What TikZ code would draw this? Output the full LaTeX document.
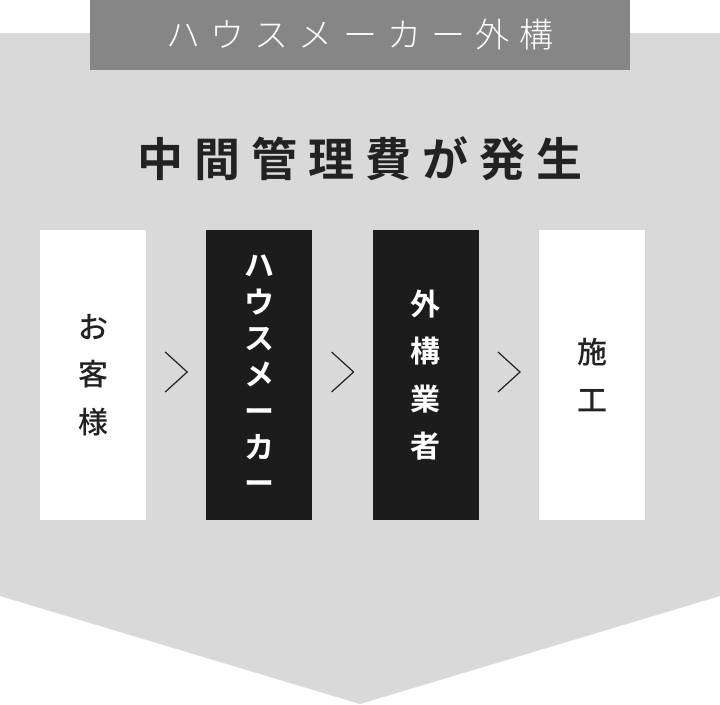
\documentclass[tikz,border=0pt]{standalone}
\usepackage{fontspec}
\setmainfont{Noto Sans CJK JP}
\newfontfamily\jpbold{Noto Sans CJK JP Bold}
\newfontfamily\jpmedium{Noto Sans CJK JP Medium}
\newfontfamily\jplight{Noto Sans CJK JP Light}
\usetikzlibrary{positioning}
\definecolor{bandgray}{HTML}{D9D9D9}
\definecolor{headgray}{HTML}{868686}
\definecolor{stepblack}{HTML}{1C1C1C}
\definecolor{inkdark}{HTML}{222222}

\begin{document}
\begin{tikzpicture}[x=1pt, y=-1pt,
	stage/.style = { minimum width=106pt, minimum height=290pt, inner sep=0pt, align=center },
	light/.style = { stage, fill=white, text=inkdark, font=\jpmedium\fontsize{30}{47.5}\selectfont },
	dark/.style = { stage, fill=stepblack, text=white, font=\jpbold\fontsize{30}{47.5}\selectfont },
	chev/.style = { draw=inkdark, line width=1.2pt }]

  \useasboundingbox (0,0) rectangle (720,704);
  \fill[bandgray] (0,33) -- (720,33) -- (720,596) -- (360,704) -- (0,596) -- cycle;
  \draw (360,35) node[fill=headgray, minimum width=540pt, minimum height=70pt, text=white,
    font=\jplight\fontsize{34}{34}\selectfont\addfontfeatures{LetterSpace=30}] (head) {ハウスメーカー外構};
  \draw (360,159) node[text=inkdark,
    font=\jpbold\fontsize{46}{46}\selectfont\addfontfeatures{LetterSpace=24}] (title) {中間管理費が発生};

  \node[light] (kyaku) at (93,375) {お\\客\\様};
  \node[dark, right=60pt of kyaku, font=\jpbold\fontsize{30}{36.3}\selectfont] (maker) {ハ\\ウ\\ス\\メ\\ー\\カ\\ー};
  \node[dark, right=60pt of maker] (gaiko) {外\\構\\業\\者};
  \node[light, right=60pt of gaiko] (seko) {施\\工};

  \draw[chev] ([xshift=19pt,yshift=23pt]kyaku.east) -- ++(22pt,-20pt) -- ++(-22pt,-20pt);
  \draw[chev] ([xshift=19pt,yshift=23pt]maker.east) -- ++(22pt,-20pt) -- ++(-22pt,-20pt);
  \draw[chev] ([xshift=19pt,yshift=23pt]gaiko.east) -- ++(22pt,-20pt) -- ++(-22pt,-20pt);
\end{tikzpicture}
\end{document}
